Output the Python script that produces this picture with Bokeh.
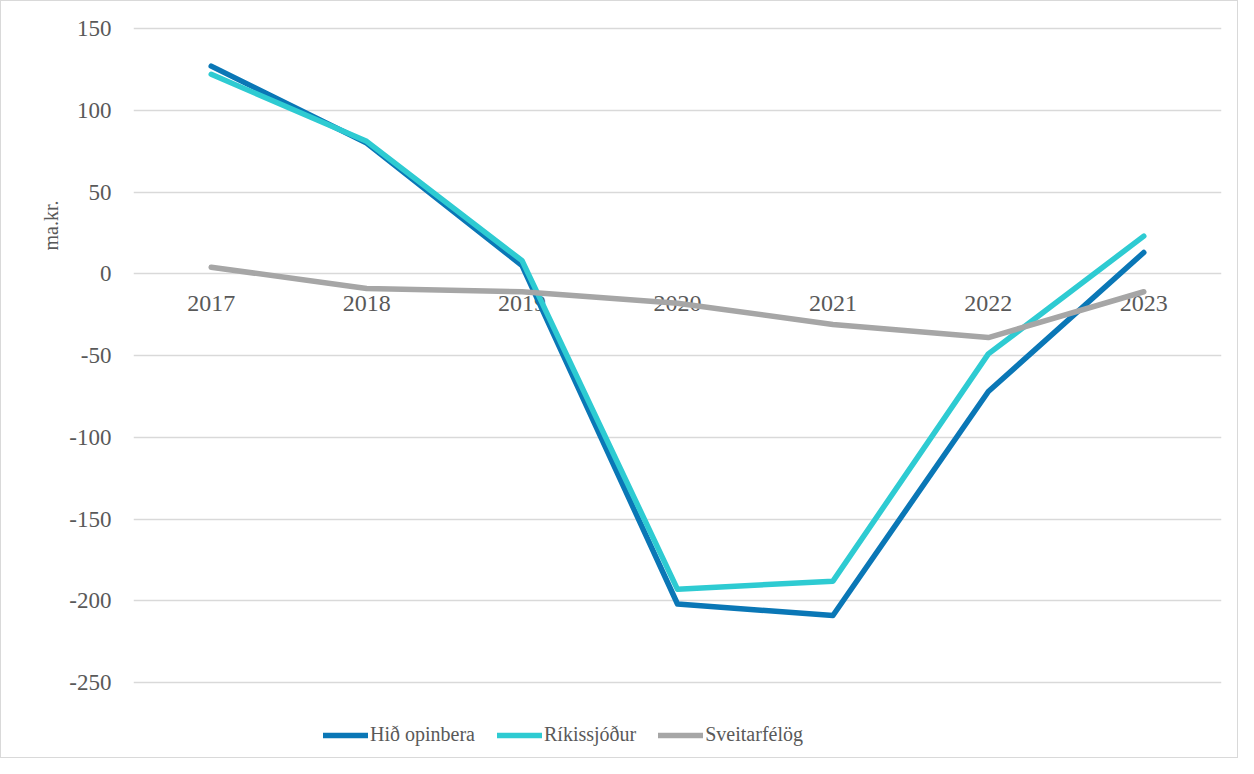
from bokeh.plotting import figure
from bokeh.models import Legend, LegendItem, Title, FixedTicker
from bokeh.embed import file_html
from bokeh.resources import INLINE

years = ["2017", "2018", "2019", "2020", "2021", "2022", "2023"]
hid_opinbera = [127, 80, 5, -202, -209, -72, 13]
rikissjodur = [122, 81, 8, -193, -188, -49, 23]
sveitarfelog = [4, -9, -11, -18, -31, -39, -11]
y_ticks = [-250, -200, -150, -100, -50, 0, 50, 100, 150]

FONT = "Liberation Serif"
TXT = "#595959"

p = figure(width=1238, height=758, x_range=years, y_range=(-297.1, 154.3),
           output_backend="svg", toolbar_location=None,
           min_border_left=132, min_border_right=18, min_border_top=20, min_border_bottom=0)
p.outline_line_color = None
p.styles = {"border": "1px solid #d9d9d9", "box-sizing": "border-box"}

r1 = p.line(years, hid_opinbera, line_color="#0a77b6", line_width=5.5, line_cap="round", line_join="round")
r2 = p.line(years, rikissjodur, line_color="#2ecbd2", line_width=5.5, line_cap="round", line_join="round")
r3 = p.line(years, sveitarfelog, line_color="#a6a6a6", line_width=5.5, line_cap="round", line_join="round")

p.xgrid.grid_line_color = None
p.ygrid.grid_line_color = "#d9d9d9"
p.ygrid.grid_line_width = 1.3
p.yaxis.ticker = FixedTicker(ticks=y_ticks)
p.yaxis.major_label_overrides = {t: str(t) for t in y_ticks}

p.yaxis.axis_line_color = None
p.yaxis.major_tick_line_color = None
p.yaxis.minor_tick_line_color = None
p.yaxis.major_label_text_font = FONT
p.yaxis.major_label_text_font_size = "23px"
p.yaxis.major_label_text_color = TXT
p.yaxis.major_label_standoff = 16

p.xaxis.fixed_location = 0
p.xaxis.axis_line_color = None
p.xaxis.major_tick_line_color = None
p.xaxis.major_label_text_font = FONT
p.xaxis.major_label_text_font_size = "24px"
p.xaxis.major_label_text_color = TXT
p.xaxis.major_label_standoff = 16
p.xaxis.level = "underlay"

ylab = Title(text="ma.kr.", align="left", offset=509, text_font=FONT,
             text_font_size="20px", text_color=TXT, text_font_style="normal", standoff=10)
p.add_layout(ylab, "left")

legend = Legend(items=[LegendItem(label="Hið opinbera", renderers=[r1]),
                       LegendItem(label="Ríkissjóður", renderers=[r2]),
                       LegendItem(label="Sveitarfélög", renderers=[r3])],
                orientation="horizontal", location=(190, 13),
                label_text_font=FONT, label_text_font_size="20px", label_text_color=TXT,
                glyph_width=45, label_standoff=2, spacing=22,
                border_line_color=None, background_fill_alpha=0, margin=0, padding=0)
p.add_layout(legend, "center")

open("out.html", "w").write(file_html(p, INLINE))
